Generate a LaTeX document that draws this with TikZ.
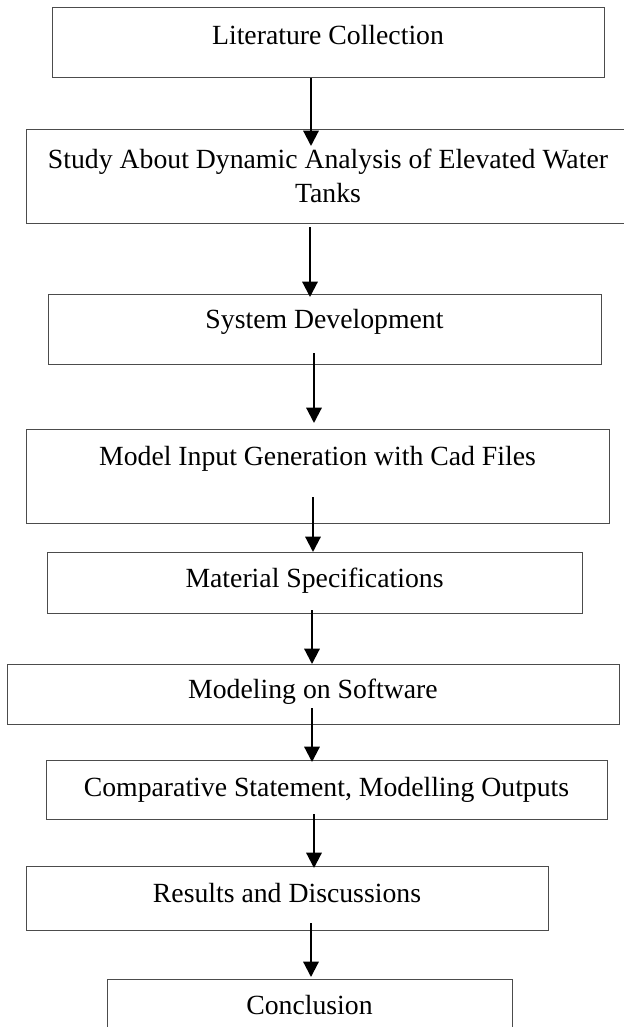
\documentclass[tikz,border=0pt]{standalone}
\usepackage{fontspec}
\setmainfont{Liberation Serif}
\usetikzlibrary{arrows.meta,calc}
\begin{document}
\begin{tikzpicture}[x=0.75pt,y=-0.75pt,
  box/.style={draw=black!70, line width=0.75pt, rectangle, inner sep=0pt, outer sep=0pt},
  txt/.style={font=\fontsize{20.8pt}{26pt}\selectfont, inner sep=0pt, anchor=base, align=center},
  arr/.style={line width=1.6pt, -{Triangle[length=11.5pt,width=11.5pt]}}]
\useasboundingbox (0,0) rectangle (624,1027);
% boxes
\node[box, minimum width=414pt,    minimum height=52.5pt]  (b1) at (328,43) {};
\node[box, minimum width=453pt,    minimum height=69.75pt] (b2) at (328,176.5) {};
\node[box, minimum width=414.75pt, minimum height=52.5pt]  (b3) at (324.5,329) {};
\node[box, minimum width=437.25pt, minimum height=70.5pt]  (b4) at (317.5,476) {};
\node[box, minimum width=401.25pt, minimum height=45.75pt] (b5) at (314.5,582.5) {};
\node[box, minimum width=459pt,    minimum height=45pt]    (b6) at (313,694) {};
\node[box, minimum width=420.75pt, minimum height=44.25pt] (b7) at (326.5,789.5) {};
\node[box, minimum width=391.5pt,  minimum height=48pt]    (b8) at (287,898) {};
\node[box, minimum width=303.75pt, minimum height=52.5pt]  (b9) at (309.5,1014) {};
% texts
\node[txt] (t1) at (b1.center |- 0,45)  {Literature Collection};
\node[txt, anchor=center] (t2) at (b2.center |- 0,176) {Study About Dynamic Analysis of Elevated Water\\Tanks};
\node[txt] (t3) at (b3.center |- 0,328) {System Development};
\node[txt] (t4) at (b4.center |- 0,465) {Model Input Generation with Cad Files};
\node[txt] (t5) at (b5.center |- 0,587) {Material Specifications};
\node[txt] (t6) at (b6.center |- 0,698) {Modeling on Software};
\node[txt] (t7) at (b7.center |- 0,796) {Comparative Statement, Modelling Outputs};
\node[txt] (t8) at (b8.center |- 0,902) {Results and Discussions};
\node[txt] (t9) at (b9.center |- 0,1014) {Conclusion};
% arrows
\draw[arr] (b1.south -| 311,0) -- ($(b2.north -| 311,0)+(0,16)$);
\draw[arr] ($(b2.south -| 310,0)+(0,4)$) -- ($(b3.north -| 310,0)+(0,3)$);
\draw[arr] ($(b3.south -| 314,0)+(0,-11)$) -- ($(b4.north -| 314,0)+(0,-6)$);
\draw[arr] ($(b4.south -| 313,0)+(0,-26)$) -- (b5.north -| 313,0);
\draw[arr] ($(b5.south -| 312,0)+(0,-3)$) -- (b6.north -| 312,0);
\draw[arr] ($(b6.south -| 312,0)+(0,-16)$) -- ($(b7.north -| 312,0)+(0,2)$);
\draw[arr] ($(b7.south -| 314,0)+(0,-5)$) -- ($(b8.north -| 314,0)+(0,2)$);
\draw[arr] ($(b8.south -| 311,0)+(0,-7)$) -- ($(b9.north -| 311,0)+(0,-2)$);
\end{tikzpicture}
\end{document}
